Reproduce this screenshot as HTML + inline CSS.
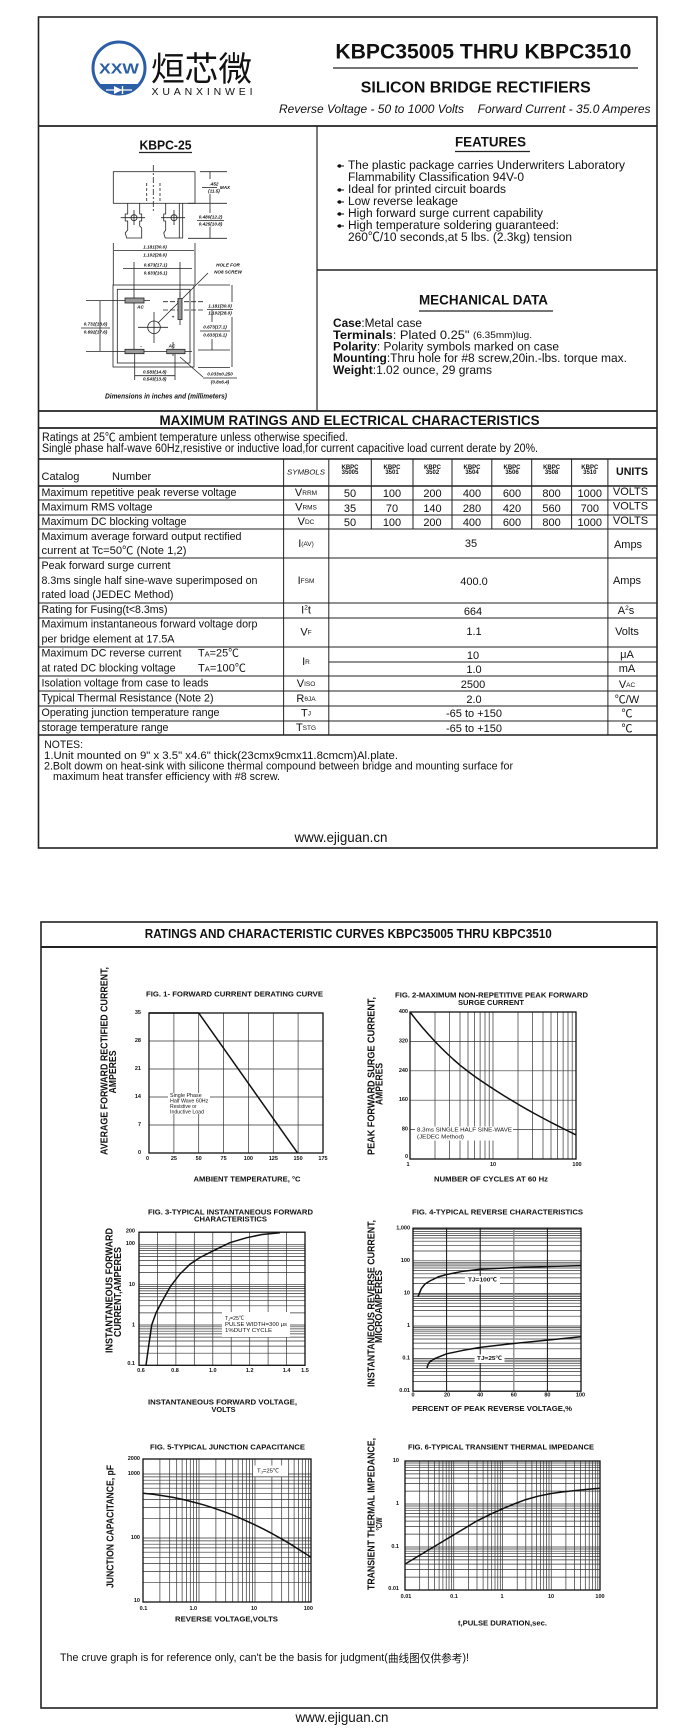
<!DOCTYPE html>
<html><head><meta charset="utf-8"><style>
html,body{margin:0;padding:0;background:#fff;}
svg{display:block;}
text{font-family:"Liberation Sans",Arial,"Noto Sans CJK SC",sans-serif;fill:#111;}
.b{font-weight:bold;}
.ln{stroke:#222;fill:none;}
.g{stroke:#333;stroke-width:0.7;fill:none;}
.bd{stroke:#111;stroke-width:1.3;fill:none;}
.cv{stroke:#111;stroke-width:1.5;fill:none;stroke-linejoin:round;}
.d{font-size:4.6px;font-weight:bold;font-style:italic;}
</style></head><body>
<svg width="694" height="1736" viewBox="0 0 694 1736" xmlns="http://www.w3.org/2000/svg">
<rect x="0" y="0" width="694" height="1736" fill="#fff"/>

<!-- ================= PAGE 1 ================= -->
<rect x="38.5" y="17" width="618.5" height="831" class="ln" stroke-width="1.6"/>
<line x1="38.5" y1="126" x2="657" y2="126" class="ln" stroke-width="1.8"/>
<line x1="317" y1="126" x2="317" y2="411" class="ln" stroke-width="1.2"/>
<line x1="317" y1="270" x2="657" y2="270" class="ln" stroke-width="1.6"/>

<!-- logo -->
<circle cx="119" cy="68" r="26" fill="#fff" stroke="#2b5ea7" stroke-width="3"/>
<path d="M98.5,84 A26,26 0 0 0 139.5,84 Z" fill="#2b5ea7"/>
<path d="M106,90 H132" stroke="#fff" stroke-width="1.2"/>
<path d="M114,86 L114,94 L122,90 Z" fill="#fff"/>
<path d="M122.5,86 V94" stroke="#fff" stroke-width="1.4"/>
<text x="119" y="69" text-anchor="middle" dominant-baseline="central" font-size="15" class="b" style="fill:#2b5ea7" textLength="40" lengthAdjust="spacingAndGlyphs">XXW</text>
<text x="151" y="81" font-size="34" style="font-family:'Liberation Sans','Noto Sans CJK SC',sans-serif;fill:#111" textLength="101" lengthAdjust="spacingAndGlyphs">烜芯微</text>
<text x="151.5" y="95" font-size="10.5" textLength="101" lengthAdjust="spacing">XUANXINWEI</text>

<!-- title -->
<text x="483.4" y="52" text-anchor="middle" dominant-baseline="central" font-size="21" class="b" textLength="296" lengthAdjust="spacingAndGlyphs">KBPC35005 THRU KBPC3510</text>
<line x1="333" y1="68" x2="638" y2="68" class="ln" stroke-width="1.2"/>
<text x="475.8" y="88" text-anchor="middle" dominant-baseline="central" font-size="16" class="b" textLength="230" lengthAdjust="spacingAndGlyphs">SILICON BRIDGE RECTIFIERS</text>
<text x="279" y="109" dominant-baseline="central" font-size="12" font-style="italic" textLength="185" lengthAdjust="spacingAndGlyphs">Reverse Voltage - 50 to 1000 Volts</text>
<text x="477.6" y="109" dominant-baseline="central" font-size="12" font-style="italic" textLength="173" lengthAdjust="spacingAndGlyphs">Forward Current - 35.0 Amperes</text>

<!-- package drawing -->
<text x="165.5" y="145" text-anchor="middle" dominant-baseline="central" font-size="13" class="b" textLength="52" lengthAdjust="spacingAndGlyphs">KBPC-25</text>
<line x1="139" y1="152.5" x2="192" y2="152.5" class="ln" stroke-width="1.2"/>
<g class="ln" stroke-width="0.8">
<rect x="113.3" y="171.7" width="81.7" height="31.6"/>
<line x1="153.3" y1="165" x2="153.3" y2="211" stroke-dasharray="6,2,2,2"/>
<line x1="146.7" y1="183" x2="146.7" y2="201" stroke-dasharray="3,2"/>
<line x1="160" y1="183" x2="160" y2="201" stroke-dasharray="3,2"/>
<path d="M127.7,203.3 V214 h-2.5 v7 h2.5 V230 l-2.5,3 l1.5,5 h15 V228 l-2,-2 V221 h2 v-7 h-2 V203.3"/>
<circle cx="134" cy="217.7" r="3"/>
<line x1="120.7" y1="217.7" x2="145" y2="217.7"/>
<line x1="134" y1="210" x2="134" y2="225"/>
<path d="M165.7,203.3 V214 h-2 v7 h2 V230 l-2,3 l1.5,5 h17.5 V203.3"/>
<line x1="179.3" y1="203.3" x2="179.3" y2="238"/>
<circle cx="174" cy="217.7" r="3"/>
<line x1="161" y1="217.7" x2="185" y2="217.7"/>
<line x1="174" y1="210" x2="174" y2="225"/>
<line x1="200" y1="171.7" x2="227" y2="171.7"/>
<line x1="188" y1="203.3" x2="227" y2="203.3"/>
<line x1="188" y1="238.3" x2="227" y2="238.3"/>
<line x1="210" y1="172" x2="210" y2="179"/><line x1="210" y1="194" x2="210" y2="203"/>
<line x1="210" y1="204" x2="210" y2="213"/><line x1="210" y1="227" x2="210" y2="238"/>
<line x1="202" y1="187.5" x2="217" y2="187.5"/>
<line x1="197" y1="220.5" x2="224" y2="220.5"/>
<line x1="113.3" y1="243" x2="113.3" y2="285"/>
<line x1="195" y1="243" x2="195" y2="285"/>
<line x1="114" y1="250.5" x2="194" y2="250.5"/>
<line x1="123" y1="268.5" x2="192" y2="268.5"/>
<line x1="134" y1="262" x2="134" y2="352"/>
<line x1="180" y1="262" x2="180" y2="298"/>
<line x1="208" y1="273" x2="158" y2="323"/>
<rect x="113" y="285" width="81" height="82"/>
<rect x="117.3" y="289.3" width="72.7" height="73.7"/>
<line x1="86" y1="300.5" x2="150" y2="300.5"/>
<line x1="163" y1="301.7" x2="205" y2="301.7" stroke-dasharray="5,2"/>
<line x1="163" y1="310" x2="205" y2="310" stroke-dasharray="5,2"/>
<line x1="180" y1="292" x2="180" y2="325" stroke-dasharray="5,2"/>
<circle cx="154" cy="327.3" r="6.3"/>
<line x1="138" y1="327.3" x2="168" y2="327.3"/>
<line x1="154" y1="312" x2="154" y2="343"/>
<line x1="86" y1="351.5" x2="192" y2="351.5"/>
<line x1="173" y1="342" x2="173" y2="356"/>
<line x1="100" y1="301" x2="100" y2="351"/>
<line x1="81" y1="328" x2="110" y2="328"/>
<line x1="198" y1="285" x2="230" y2="285"/>
<line x1="198" y1="367.5" x2="230" y2="367.5"/>
<line x1="232" y1="285" x2="232" y2="302"/><line x1="232" y1="317" x2="232" y2="367"/>
<line x1="207" y1="309.5" x2="233" y2="309.5"/>
<line x1="198" y1="350" x2="230" y2="350"/>
<line x1="212" y1="310" x2="212" y2="322"/><line x1="212" y1="339" x2="212" y2="350"/>
<line x1="200" y1="331" x2="230" y2="331"/>
<line x1="134.7" y1="353" x2="134.7" y2="380"/>
<line x1="175" y1="353" x2="175" y2="380"/>
<line x1="135" y1="375.7" x2="175" y2="375.7"/>
<line x1="203" y1="378" x2="237" y2="378"/>
<line x1="203" y1="377" x2="180" y2="357"/>
</g>
<rect x="125" y="298" width="19" height="5" fill="#999" stroke="#222" stroke-width="0.8"/>
<rect x="178" y="298.5" width="4" height="21" fill="#999" stroke="#222" stroke-width="0.8"/>
<rect x="125" y="349.3" width="19" height="4.4" fill="#999" stroke="#222" stroke-width="0.8"/>
<rect x="166.7" y="349.3" width="18.3" height="4.4" fill="#999" stroke="#222" stroke-width="0.8"/>
<g class="d" text-anchor="middle" dominant-baseline="central">
<text x="214" y="184">.452</text><text x="214" y="191">(11.5)</text>
<text x="225" y="187.5">MAX</text>
<text x="210.5" y="217">0.480(12.2)</text><text x="210.5" y="224">0.425(10.8)</text>
<text x="155" y="247">1.181(30.0)</text><text x="155" y="255">1.102(28.0)</text>
<text x="155.5" y="265">0.673(17.1)</text><text x="155.5" y="273">0.633(16.1)</text>
<text x="228" y="265">HOLE FOR</text><text x="228" y="272">NO8 SCREW</text>
<text x="140.5" y="307">AC</text><text x="173" y="317">+</text>
<text x="141" y="346">-</text><text x="172" y="346">AC</text>
<text x="95.5" y="324">0.732(18.6)</text><text x="95.5" y="332">0.692(17.6)</text>
<text x="220" y="306">1.181(30.0)</text><text x="220" y="313">1.102(28.0)</text>
<text x="215" y="327">0.673(17.1)</text><text x="215" y="335">0.633(16.1)</text>
<text x="154.7" y="372">0.583(14.8)</text><text x="154.7" y="379">0.543(13.8)</text>
<text x="220" y="374">0.033x0.250</text><text x="220" y="382">(0.8x6.4)</text>
</g>
<text x="166" y="397" text-anchor="middle" dominant-baseline="central" font-size="7" font-style="italic" class="b" textLength="122" lengthAdjust="spacingAndGlyphs">Dimensions in inches and (millimeters)</text>

<!-- features -->
<text x="490.5" y="142" text-anchor="middle" dominant-baseline="central" font-size="13.5" class="b" textLength="71" lengthAdjust="spacingAndGlyphs">FEATURES</text>
<line x1="455" y1="151.5" x2="530" y2="151.5" class="ln" stroke-width="1.2"/>
<g font-size="12.3" dominant-baseline="central">
<text x="348" y="165" textLength="277" lengthAdjust="spacingAndGlyphs">The plastic package carries Underwriters Laboratory</text>
<text x="348" y="177" textLength="176" lengthAdjust="spacingAndGlyphs">Flammability Classification 94V-0</text>
<text x="348" y="189" textLength="158" lengthAdjust="spacingAndGlyphs">Ideal for printed circuit boards</text>
<text x="348" y="201" textLength="110" lengthAdjust="spacingAndGlyphs">Low reverse leakage</text>
<text x="348" y="213" textLength="195" lengthAdjust="spacingAndGlyphs">High forward surge current capability</text>
<text x="348" y="225" textLength="211" lengthAdjust="spacingAndGlyphs">High temperature soldering guaranteed:</text>
<text x="348" y="237" textLength="224" lengthAdjust="spacingAndGlyphs">260℃/10 seconds,at 5 lbs. (2.3kg) tension</text>
</g>
<g stroke="#111" stroke-width="1">
<line x1="337" y1="166" x2="344" y2="166"/><line x1="337" y1="190" x2="344" y2="190"/>
<line x1="337" y1="202" x2="344" y2="202"/><line x1="337" y1="214" x2="344" y2="214"/>
<line x1="337" y1="226" x2="344" y2="226"/>
</g>
<g fill="#111">
<circle cx="339.5" cy="166" r="1.7"/><circle cx="339.5" cy="190" r="1.7"/><circle cx="339.5" cy="202" r="1.7"/><circle cx="339.5" cy="214" r="1.7"/><circle cx="339.5" cy="226" r="1.7"/>
</g>

<!-- mechanical -->
<text x="483.5" y="300" text-anchor="middle" dominant-baseline="central" font-size="13.5" class="b" textLength="129" lengthAdjust="spacingAndGlyphs">MECHANICAL DATA</text>
<line x1="419" y1="311" x2="553" y2="311" class="ln" stroke-width="1.2"/>
<g font-size="12.2" dominant-baseline="central">
<text x="333" y="323" textLength="89" lengthAdjust="spacingAndGlyphs"><tspan class="b">Case</tspan>:Metal case</text>
<text x="333" y="335" textLength="199" lengthAdjust="spacingAndGlyphs"><tspan class="b">Terminals</tspan>: Plated 0.25"   <tspan font-size="9.5">(6.35mm)lug.</tspan></text>
<text x="333" y="346.5" textLength="226" lengthAdjust="spacingAndGlyphs"><tspan class="b">Polarity</tspan>: Polarity symbols marked on case</text>
<text x="333" y="358" textLength="294" lengthAdjust="spacingAndGlyphs"><tspan class="b">Mounting</tspan>:Thru hole for #8 screw,20in.-lbs. torque max.</text>
<text x="333" y="370" textLength="159" lengthAdjust="spacingAndGlyphs"><tspan class="b">Weight</tspan>:1.02 ounce, 29 grams</text>
</g>

<!-- max ratings -->
<line x1="38.5" y1="411" x2="657" y2="411" class="ln" stroke-width="1.8"/>
<line x1="38.5" y1="428" x2="657" y2="428" class="ln" stroke-width="1.8"/>
<text x="349.5" y="420" text-anchor="middle" dominant-baseline="central" font-size="14" class="b" textLength="380" lengthAdjust="spacingAndGlyphs">MAXIMUM RATINGS AND ELECTRICAL CHARACTERISTICS</text>
<text x="42" y="438" dominant-baseline="central" font-size="11.5" textLength="306" lengthAdjust="spacingAndGlyphs">Ratings at 25℃ ambient temperature unless otherwise specified.</text>
<text x="42" y="449" dominant-baseline="central" font-size="11.5" textLength="496" lengthAdjust="spacingAndGlyphs">Single phase half-wave 60Hz,resistive or inductive load,for current capacitive load current derate by 20%.</text>

<!-- table lines -->
<g class="ln" stroke-width="1">
<line x1="38.5" y1="459" x2="657" y2="459" stroke-width="1.4"/>
<line x1="38.5" y1="486" x2="657" y2="486" stroke-width="1.4"/>
<line x1="38.5" y1="500" x2="657" y2="500"/>
<line x1="38.5" y1="515" x2="657" y2="515"/>
<line x1="38.5" y1="529" x2="657" y2="529"/>
<line x1="38.5" y1="558" x2="657" y2="558"/>
<line x1="38.5" y1="603" x2="657" y2="603"/>
<line x1="38.5" y1="618" x2="657" y2="618"/>
<line x1="38.5" y1="647" x2="657" y2="647"/>
<line x1="328.8" y1="662" x2="657" y2="662"/>
<line x1="38.5" y1="676" x2="657" y2="676"/>
<line x1="38.5" y1="691" x2="657" y2="691"/>
<line x1="38.5" y1="706" x2="657" y2="706"/>
<line x1="38.5" y1="721" x2="657" y2="721"/>
<line x1="38.5" y1="735" x2="657" y2="735" stroke-width="1.4"/>
<line x1="283.6" y1="459" x2="283.6" y2="735"/>
<line x1="328.8" y1="459" x2="328.8" y2="735"/>
<line x1="607.9" y1="459" x2="607.9" y2="735"/>
<line x1="371.3" y1="459" x2="371.3" y2="529"/>
<line x1="413" y1="459" x2="413" y2="529"/>
<line x1="452" y1="459" x2="452" y2="529"/>
<line x1="491.8" y1="459" x2="491.8" y2="529"/>
<line x1="531.7" y1="459" x2="531.7" y2="529"/>
<line x1="571.6" y1="459" x2="571.6" y2="529"/>
</g>

<!-- table header -->
<text x="41.5" y="477" dominant-baseline="central" font-size="11">Catalog</text>
<text x="112" y="477" dominant-baseline="central" font-size="11">Number</text>
<text x="306" y="472" text-anchor="middle" dominant-baseline="central" font-size="7.5" font-style="italic" textLength="38" lengthAdjust="spacingAndGlyphs">SYMBOLS</text>
<g font-size="6" class="b" text-anchor="middle" dominant-baseline="central">
<text x="350" y="468">KBPC</text><text x="350" y="473">35005</text>
<text x="392" y="468">KBPC</text><text x="392" y="473">3501</text>
<text x="432.5" y="468">KBPC</text><text x="432.5" y="473">3502</text>
<text x="472" y="468">KBPC</text><text x="472" y="473">3504</text>
<text x="512" y="468">KBPC</text><text x="512" y="473">3506</text>
<text x="551.6" y="468">KBPC</text><text x="551.6" y="473">3508</text>
<text x="589.8" y="468">KBPC</text><text x="589.8" y="473">3510</text>
</g>
<text x="632" y="472" text-anchor="middle" dominant-baseline="central" font-size="11" class="b" textLength="32" lengthAdjust="spacingAndGlyphs">UNITS</text>

<!-- table body labels -->
<g font-size="10.8" dominant-baseline="central">
<text x="41.5" y="493" textLength="195" lengthAdjust="spacingAndGlyphs">Maximum repetitive peak reverse voltage</text>
<text x="41.5" y="507.5" textLength="111" lengthAdjust="spacingAndGlyphs">Maximum RMS voltage</text>
<text x="41.5" y="522" textLength="145" lengthAdjust="spacingAndGlyphs">Maximum DC blocking voltage</text>
<text x="41.5" y="537" textLength="200" lengthAdjust="spacingAndGlyphs">Maximum average forward output rectified</text>
<text x="41.5" y="551" textLength="145" lengthAdjust="spacingAndGlyphs">current at  Tc=50℃  (Note 1,2)</text>
<text x="41.5" y="566" textLength="129" lengthAdjust="spacingAndGlyphs">Peak forward surge current</text>
<text x="41.5" y="581" textLength="216" lengthAdjust="spacingAndGlyphs">8.3ms single half sine-wave superimposed on</text>
<text x="41.5" y="595" textLength="132" lengthAdjust="spacingAndGlyphs">rated load (JEDEC Method)</text>
<text x="41.5" y="610" textLength="126" lengthAdjust="spacingAndGlyphs">Rating for Fusing(t&lt;8.3ms)</text>
<text x="41.5" y="624.5" textLength="216" lengthAdjust="spacingAndGlyphs">Maximum instantaneous forward voltage dorp</text>
<text x="41.5" y="639.5" textLength="133" lengthAdjust="spacingAndGlyphs">per bridge element at 17.5A</text>
<text x="41.5" y="653.5" textLength="140" lengthAdjust="spacingAndGlyphs">Maximum DC reverse current</text>
<text x="198" y="653.5" textLength="41" lengthAdjust="spacingAndGlyphs">T<tspan font-size="7.5">A</tspan>=25℃</text>
<text x="41.5" y="668.5" textLength="134" lengthAdjust="spacingAndGlyphs">at rated DC blocking voltage</text>
<text x="198" y="668.5" textLength="48" lengthAdjust="spacingAndGlyphs">T<tspan font-size="7.5">A</tspan>=100℃</text>
<text x="41.5" y="683.5" textLength="167" lengthAdjust="spacingAndGlyphs">Isolation voltage from case to leads</text>
<text x="41.5" y="698.5" textLength="172" lengthAdjust="spacingAndGlyphs">Typical Thermal Resistance (Note 2)</text>
<text x="41.5" y="713" textLength="178" lengthAdjust="spacingAndGlyphs">Operating junction temperature range</text>
<text x="41.5" y="728" textLength="127" lengthAdjust="spacingAndGlyphs">storage temperature range</text>
</g>
<!-- symbols -->
<g font-size="11" dominant-baseline="central" text-anchor="middle">
<text x="306" y="493">V<tspan font-size="6.5">RRM</tspan></text>
<text x="306" y="507.5">V<tspan font-size="6.5">RMS</tspan></text>
<text x="306" y="522">V<tspan font-size="6.5">DC</tspan></text>
<text x="306" y="544">I<tspan font-size="6.5">(AV)</tspan></text>
<text x="306" y="581">I<tspan font-size="6.5">FSM</tspan></text>
<text x="306" y="610.5">I<tspan font-size="6.5" dy="-3">2</tspan><tspan dy="3">t</tspan></text>
<text x="306" y="632.5">V<tspan font-size="6.5">F</tspan></text>
<text x="306" y="662">I<tspan font-size="6.5">R</tspan></text>
<text x="306" y="684">V<tspan font-size="6.5">ISO</tspan></text>
<text x="306" y="699">R<tspan font-size="6.5">θJA</tspan></text>
<text x="306" y="713.5">T<tspan font-size="6.5">J</tspan></text>
<text x="306" y="728">T<tspan font-size="6.5">STG</tspan></text>
</g>
<!-- values -->
<g font-size="11" dominant-baseline="central" text-anchor="middle">
<text x="350" y="494">50</text><text x="392" y="494">100</text><text x="432.5" y="494">200</text><text x="472" y="494">400</text><text x="512" y="494">600</text><text x="551.6" y="494">800</text><text x="589.8" y="494">1000</text>
<text x="350" y="509">35</text><text x="392" y="509">70</text><text x="432.5" y="509">140</text><text x="472" y="509">280</text><text x="512" y="509">420</text><text x="551.6" y="509">560</text><text x="589.8" y="509">700</text>
<text x="350" y="523">50</text><text x="392" y="523">100</text><text x="432.5" y="523">200</text><text x="472" y="523">400</text><text x="512" y="523">600</text><text x="551.6" y="523">800</text><text x="589.8" y="523">1000</text>
<text x="471" y="544">35</text>
<text x="474" y="582">400.0</text>
<text x="473" y="612">664</text>
<text x="474" y="632">1.1</text>
<text x="473" y="656">10</text>
<text x="474" y="670">1.0</text>
<text x="473" y="685">2500</text>
<text x="474" y="700">2.0</text>
<text x="474" y="714">-65 to +150</text>
<text x="474" y="729">-65 to +150</text>
<text x="630.5" y="492">VOLTS</text>
<text x="630.5" y="506.5">VOLTS</text>
<text x="630.5" y="521">VOLTS</text>
<text x="628" y="545">Amps</text>
<text x="627" y="581">Amps</text>
<text x="626" y="611">A<tspan font-size="6.5" dy="-3">2</tspan><tspan dy="3">s</tspan></text>
<text x="627" y="632">Volts</text>
<text x="627" y="655">μA</text>
<text x="627" y="669">mA</text>
<text x="627" y="685">V<tspan font-size="6.5">AC</tspan></text>
<text x="627" y="700">℃/W</text>
<text x="627" y="714">℃</text>
<text x="627" y="729">℃</text>
</g>

<!-- notes -->
<g font-size="11" dominant-baseline="central">
<text x="44.3" y="745" textLength="38.7" lengthAdjust="spacingAndGlyphs">NOTES:</text>
<text x="44" y="756" textLength="354" lengthAdjust="spacingAndGlyphs">1.Unit mounted on 9"   x 3.5"   x4.6"   thick(23cmx9cmx11.8cmcm)Al.plate.</text>
<text x="44" y="766.5" textLength="469" lengthAdjust="spacingAndGlyphs">2.Bolt dowm on heat-sink with silicone thermal compound between bridge and mounting surface for</text>
<text x="53" y="777" textLength="227" lengthAdjust="spacingAndGlyphs">maximum heat transfer efficiency with #8 screw.</text>
</g>
<text x="341" y="837" text-anchor="middle" dominant-baseline="central" font-size="14" textLength="93" lengthAdjust="spacingAndGlyphs">www.ejiguan.cn</text>

<!-- ================= PAGE 2 ================= -->
<rect x="41" y="922" width="616" height="786" class="ln" stroke-width="1.6"/>
<line x1="41" y1="947" x2="657" y2="947" class="ln" stroke-width="2"/>
<text x="348.3" y="934" text-anchor="middle" dominant-baseline="central" font-size="12.5" class="b" textLength="407" lengthAdjust="spacingAndGlyphs">RATINGS AND CHARACTERISTIC CURVES KBPC35005 THRU KBPC3510</text>

<!-- FIG 1 -->
<text x="234.5" y="995" text-anchor="middle" dominant-baseline="central" font-size="7" class="b" textLength="177" lengthAdjust="spacingAndGlyphs">FIG. 1- FORWARD CURRENT DERATING CURVE</text>
<path class="g" stroke-width="1" d="M173.9,1013V1153M198.7,1013V1153M223.6,1013V1153M248.4,1013V1153M273.3,1013V1153M298.1,1013V1153M149,1041H323M149,1069H323M149,1097H323M149,1125H323"/>
<rect x="149" y="1013" width="174" height="140" class="bd"/>
<rect x="168" y="1093" width="42" height="21" fill="#fff"/>
<polyline class="cv" points="149,1013 198.7,1013 297.6,1153"/>
<g font-size="5" dominant-baseline="central">
<text x="170" y="1096" textLength="31.7" lengthAdjust="spacingAndGlyphs">Single Phase</text>
<text x="170" y="1101.5" textLength="38.3" lengthAdjust="spacingAndGlyphs">Half Wave 60Hz</text>
<text x="170" y="1107" textLength="26.7" lengthAdjust="spacingAndGlyphs">Resistive or</text>
<text x="170" y="1112.5" textLength="34" lengthAdjust="spacingAndGlyphs">Inductive Load</text>
</g>
<g font-size="5.5" class="b" text-anchor="end" dominant-baseline="central">
<text x="141" y="1013">35</text><text x="141" y="1041">28</text><text x="141" y="1069">21</text><text x="141" y="1097">14</text><text x="141" y="1125">7</text><text x="141" y="1153">0</text>
</g>
<g font-size="5.5" class="b" text-anchor="middle" dominant-baseline="central">
<text x="147.5" y="1159">0</text><text x="173.9" y="1159">25</text><text x="198.7" y="1159">50</text><text x="223.6" y="1159">75</text><text x="248.4" y="1159">100</text><text x="273.3" y="1159">125</text><text x="298.1" y="1159">150</text><text x="323" y="1159">175</text>
</g>
<text x="247" y="1179" text-anchor="middle" dominant-baseline="central" font-size="7.5" class="b" textLength="107" lengthAdjust="spacingAndGlyphs">AMBIENT TEMPERATURE, °C</text>
<text transform="translate(105,1061) rotate(-90)" text-anchor="middle" dominant-baseline="central" font-size="10" class="b" textLength="188" lengthAdjust="spacingAndGlyphs">AVERAGE FORWARD RECTIFIED CURRENT,</text>
<text transform="translate(113.3,1072) rotate(-90)" text-anchor="middle" dominant-baseline="central" font-size="10" class="b" textLength="43" lengthAdjust="spacingAndGlyphs">AMPERES</text>

<!-- FIG 2 -->
<text x="491.5" y="996" text-anchor="middle" dominant-baseline="central" font-size="7" class="b" textLength="193" lengthAdjust="spacingAndGlyphs">FIG. 2-MAXIMUM NON-REPETITIVE PEAK FORWARD</text>
<text x="491" y="1003.5" text-anchor="middle" dominant-baseline="central" font-size="7" class="b" textLength="66" lengthAdjust="spacingAndGlyphs">SURGE CURRENT</text>
<path class="g" stroke-width="1" d="M435,1012V1159M449.6,1012V1159M460,1012V1159M468,1012V1159M474.6,1012V1159M480.1,1012V1159M485,1012V1159M489.2,1012V1159M493,1012V1159M518,1012V1159M532.6,1012V1159M543,1012V1159M551,1012V1159M557.6,1012V1159M563.1,1012V1159M568,1012V1159M572.2,1012V1159M410,1041.4H576M410,1070.8H576M410,1100.2H576M410,1129.6H576"/>
<rect x="410" y="1012" width="166" height="147" class="bd"/>
<rect x="415" y="1126.5" width="98" height="14" fill="#fff"/>
<polyline class="cv" points="410,1012 416,1019.7 422,1027 428.5,1034.4 435,1041.5 441,1047.6 447,1053.5 453.5,1059.5 460,1065.2 467.5,1071 475,1076.6 482.5,1081.8 490,1086.8 497.5,1091.6 505,1096.4 512.5,1100.9 520,1105.4 527.5,1109.7 535,1113.9 542.5,1117.9 550,1121.9 556.5,1125.2 563,1128.5 569.5,1131.7 576,1134.9"/>
<text x="417" y="1130.5" dominant-baseline="central" font-size="5.5" textLength="95" lengthAdjust="spacingAndGlyphs">8.3ms SINGLE HALF SINE-WAVE</text>
<text x="417" y="1137.5" dominant-baseline="central" font-size="5.5" textLength="47" lengthAdjust="spacingAndGlyphs">(JEDEC Method)</text>
<g font-size="5.5" class="b" text-anchor="end" dominant-baseline="central">
<text x="408" y="1012">400</text><text x="408" y="1041.4">320</text><text x="408" y="1070.8">240</text><text x="408" y="1100.2">160</text><text x="408" y="1129.6">80</text><text x="408" y="1157">0</text>
</g>
<g font-size="5.5" class="b" text-anchor="middle" dominant-baseline="central">
<text x="408" y="1165">1</text><text x="493" y="1165">10</text><text x="577" y="1165">100</text>
</g>
<text x="491" y="1179" text-anchor="middle" dominant-baseline="central" font-size="7.5" class="b" textLength="114" lengthAdjust="spacingAndGlyphs">NUMBER OF CYCLES AT 60 Hz</text>
<text transform="translate(372,1076) rotate(-90)" text-anchor="middle" dominant-baseline="central" font-size="10" class="b" textLength="158" lengthAdjust="spacingAndGlyphs">PEAK   FORWARD SURGE CURRENT,</text>
<text transform="translate(380,1084) rotate(-90)" text-anchor="middle" dominant-baseline="central" font-size="10" class="b" textLength="42" lengthAdjust="spacingAndGlyphs">AMPERES</text>

<!-- FIG 3 -->
<text x="230.5" y="1213" text-anchor="middle" dominant-baseline="central" font-size="7" class="b" textLength="165" lengthAdjust="spacingAndGlyphs">FIG. 3-TYPICAL INSTANTANEOUS FORWARD</text>
<text x="230.5" y="1220" text-anchor="middle" dominant-baseline="central" font-size="7" class="b" textLength="73" lengthAdjust="spacingAndGlyphs">CHARACTERISTICS</text>
<path class="g" d="M157.4,1232.2V1365.3M175.9,1232.2V1365.3M194.3,1232.2V1365.3M212.8,1232.2V1365.3M231.2,1232.2V1365.3M249.7,1232.2V1365.3M268.1,1232.2V1365.3M286.6,1232.2V1365.3
M139,1353.2H305M139,1346.1H305M139,1341H305M139,1337.1H305M139,1333.9H305M139,1331.2H305M139,1328.9H305M139,1326.8H305M139,1325H305
M139,1312.9H305M139,1305.8H305M139,1300.7H305M139,1296.8H305M139,1293.6H305M139,1290.9H305M139,1288.6H305M139,1286.5H305M139,1284.7H305
M139,1272.5H305M139,1265.4H305M139,1260.4H305M139,1256.5H305M139,1253.3H305M139,1250.6H305M139,1248.3H305M139,1246.2H305M139,1244.3H305"/>
<rect x="139" y="1232.2" width="166" height="133.1" class="bd"/>
<rect x="222" y="1312" width="68" height="25" fill="#fff"/>
<polyline class="cv" points="146,1365.3 148.4,1347.9 151.7,1325 156,1313 161.1,1303.1 170,1287.1 179.6,1274.4 189.9,1264.3 200,1257.5 211.7,1251.6 229.9,1242.7 246.7,1237.7 262,1234.5 279.9,1232.7"/>
<g font-size="5.5" dominant-baseline="central">
<text x="225" y="1319" textLength="19" lengthAdjust="spacingAndGlyphs">T<tspan font-size="4">J</tspan>=25℃</text>
<text x="225" y="1325" textLength="62" lengthAdjust="spacingAndGlyphs">PULSE WIDTH=300 μs</text>
<text x="225" y="1331" textLength="47" lengthAdjust="spacingAndGlyphs">1%DUTY CYCLE</text>
</g>
<g font-size="5.5" class="b" text-anchor="end" dominant-baseline="central">
<text x="135" y="1231.5">200</text><text x="135" y="1244">100</text><text x="135" y="1285">10</text><text x="135" y="1325.5">1</text><text x="135" y="1364">0.1</text>
</g>
<g font-size="5.5" class="b" text-anchor="middle" dominant-baseline="central">
<text x="141" y="1371">0.6</text><text x="175" y="1371">0.8</text><text x="212.8" y="1371">1.0</text><text x="249.7" y="1371">1.2</text><text x="286.6" y="1371">1.4</text><text x="305" y="1371">1.5</text>
</g>
<text x="222.5" y="1402" text-anchor="middle" dominant-baseline="central" font-size="7.5" class="b" textLength="149" lengthAdjust="spacingAndGlyphs">INSTANTANEOUS FORWARD VOLTAGE,</text>
<text x="223.5" y="1409.5" text-anchor="middle" dominant-baseline="central" font-size="7.5" class="b" textLength="24" lengthAdjust="spacingAndGlyphs">VOLTS</text>
<text transform="translate(110,1290.5) rotate(-90)" text-anchor="middle" dominant-baseline="central" font-size="10" class="b" textLength="125" lengthAdjust="spacingAndGlyphs">INSTANTANEOUS FORWARD</text>
<text transform="translate(118.3,1292) rotate(-90)" text-anchor="middle" dominant-baseline="central" font-size="10" class="b" textLength="90" lengthAdjust="spacingAndGlyphs">CURRENT,AMPERES</text>

<!-- FIG 4 -->
<text x="497.5" y="1213" text-anchor="middle" dominant-baseline="central" font-size="7" class="b" textLength="171" lengthAdjust="spacingAndGlyphs">FIG. 4-TYPICAL REVERSE CHARACTERISTICS</text>
<path class="g" d="M413,1381.4H581M413,1375.7H581M413,1371.6H581M413,1368.4H581M413,1365.8H581M413,1363.7H581M413,1361.8H581M413,1360.1H581M413,1358.6H581
M413,1348.8H581M413,1343.1H581M413,1339H581M413,1335.8H581M413,1333.2H581M413,1331.1H581M413,1329.2H581M413,1327.5H581M413,1326H581
M413,1316.2H581M413,1310.5H581M413,1306.4H581M413,1303.2H581M413,1300.6H581M413,1298.5H581M413,1296.6H581M413,1294.9H581M413,1293.4H581
M413,1283.6H581M413,1277.9H581M413,1273.8H581M413,1270.6H581M413,1268H581M413,1265.9H581M413,1264H581M413,1262.3H581M413,1260.8H581
M413,1251H581M413,1245.3H581M413,1241.2H581M413,1238H581M413,1235.4H581M413,1233.3H581M413,1231.4H581M413,1229.7H581"/>
<path stroke="#111" stroke-width="1" fill="none" d="M446.6,1228.2V1391.2M480.2,1228.2V1391.2M547.4,1228.2V1391.2"/>
<path stroke="#888" stroke-width="1.3" fill="none" d="M513.8,1228.2V1391.2"/>
<rect x="413" y="1228.2" width="168" height="163" class="bd"/>
<polyline class="cv" points="418,1296.6 421.4,1288.6 425,1284 429.8,1281 438.2,1276.9 446.6,1274.5 463.4,1271.2 480.2,1269.3 513.8,1267.6 547.4,1266.5 581,1265.6"/>
<polyline class="cv" points="427,1368 428,1364.5 429.8,1361.8 434.8,1358.6 446.6,1353.8 463.4,1350.3 480.2,1347.4 513.8,1343.5 547.4,1340.1 581,1336.7"/>
<rect x="465" y="1276" width="35" height="8.5" fill="#fff"/>
<rect x="474.5" y="1354.5" width="30" height="8.5" fill="#fff"/>
<text x="468" y="1280.3" dominant-baseline="central" font-size="5.5" class="b" textLength="29" lengthAdjust="spacingAndGlyphs">TJ=100℃</text>
<text x="477" y="1358.8" dominant-baseline="central" font-size="5.5" class="b" textLength="25" lengthAdjust="spacingAndGlyphs">TJ=25℃</text>
<g font-size="5.5" class="b" text-anchor="end" dominant-baseline="central">
<text x="410" y="1228.5">1,000</text><text x="410" y="1261">100</text><text x="410" y="1293.5">10</text><text x="410" y="1326">1</text><text x="410" y="1358.6">0.1</text><text x="410" y="1391">0.01</text>
</g>
<g font-size="5.5" class="b" text-anchor="middle" dominant-baseline="central">
<text x="413" y="1395.5">0</text><text x="447" y="1395.5">20</text><text x="480.2" y="1395.5">40</text><text x="513.8" y="1395.5">60</text><text x="547.4" y="1395.5">80</text><text x="580.5" y="1395.5">100</text>
</g>
<text x="492" y="1408.5" text-anchor="middle" dominant-baseline="central" font-size="7.5" class="b" textLength="160" lengthAdjust="spacingAndGlyphs">PERCENT OF PEAK REVERSE VOLTAGE,%</text>
<text transform="translate(372,1303.5) rotate(-90)" text-anchor="middle" dominant-baseline="central" font-size="10" class="b" textLength="167" lengthAdjust="spacingAndGlyphs">INSTANTANEOUS REVERSE CURRENT,</text>
<text transform="translate(379.5,1306.5) rotate(-90)" text-anchor="middle" dominant-baseline="central" font-size="10" class="b" textLength="73" lengthAdjust="spacingAndGlyphs">MICROAMPERES</text>

<!-- FIG 5 -->
<text x="227.5" y="1448" text-anchor="middle" dominant-baseline="central" font-size="7" class="b" textLength="155" lengthAdjust="spacingAndGlyphs">FIG. 5-TYPICAL JUNCTION CAPACITANCE</text>
<path class="g" d="M159.9,1459V1602M169.7,1459V1602M176.7,1459V1602M182.1,1459V1602M186.6,1459V1602M190.3,1459V1602M193.6,1459V1602M196.4,1459V1602M199,1459V1602
M215.9,1459V1602M225.7,1459V1602M232.7,1459V1602M238.1,1459V1602M242.6,1459V1602M246.3,1459V1602M249.6,1459V1602M252.4,1459V1602M255,1459V1602
M271.9,1459V1602M281.7,1459V1602M288.7,1459V1602M294.1,1459V1602M298.6,1459V1602M302.3,1459V1602M305.6,1459V1602M308.4,1459V1602
M143,1582.7H311M143,1571.5H311M143,1563.5H311M143,1557.3H311M143,1552.2H311M143,1547.9H311M143,1544.2H311M143,1540.9H311M143,1538H311
M143,1518.7H311M143,1507.5H311M143,1499.5H311M143,1493.3H311M143,1488.2H311M143,1483.9H311M143,1480.2H311M143,1476.9H311M143,1474H311"/>
<rect x="143" y="1459" width="168" height="143" class="bd"/>
<polyline class="cv" points="143,1493.3 153,1494.3 163,1495.7 173,1497.4 183,1499.5 193,1502 203,1504.7 213,1507.8 223,1511.3 233,1515.1 243,1519.4 253,1523.9 263,1528.8 273,1534.1 283,1539.7 293,1545.7 303,1552.1 311,1557.3"/>
<rect x="253" y="1465.5" width="35" height="11" fill="#fff"/>
<text x="257" y="1471.5" dominant-baseline="central" font-size="5.5" textLength="22" lengthAdjust="spacingAndGlyphs">T<tspan font-size="4">J</tspan>=25℃</text>
<g font-size="5.5" class="b" text-anchor="end" dominant-baseline="central">
<text x="140" y="1459">2000</text><text x="140" y="1474">1000</text><text x="140" y="1538">100</text><text x="140" y="1601">10</text>
</g>
<g font-size="5.5" class="b" text-anchor="middle" dominant-baseline="central">
<text x="143.5" y="1609">0.1</text><text x="193.3" y="1609">1.0</text><text x="254" y="1609">10</text><text x="308.3" y="1609">100</text>
</g>
<text x="226.5" y="1619" text-anchor="middle" dominant-baseline="central" font-size="7.5" class="b" textLength="103" lengthAdjust="spacingAndGlyphs">REVERSE VOLTAGE,VOLTS</text>
<text transform="translate(111,1526.5) rotate(-90)" text-anchor="middle" dominant-baseline="central" font-size="10" class="b" textLength="123" lengthAdjust="spacingAndGlyphs">JUNCTION CAPACITANCE, pF</text>

<!-- FIG 6 -->
<text x="501" y="1448" text-anchor="middle" dominant-baseline="central" font-size="7" class="b" textLength="186" lengthAdjust="spacingAndGlyphs">FIG. 6-TYPICAL TRANSIENT THERMAL IMPEDANCE</text>
<path class="g" d="M419.7,1461V1590M428.3,1461V1590M434.4,1461V1590M439.1,1461V1590M442.9,1461V1590M446.2,1461V1590M449,1461V1590M451.5,1461V1590M453.75,1461V1590
M468.4,1461V1590M477,1461V1590M483.1,1461V1590M487.8,1461V1590M491.7,1461V1590M495,1461V1590M497.8,1461V1590M500.3,1461V1590M502.5,1461V1590
M517.2,1461V1590M525.8,1461V1590M531.9,1461V1590M536.6,1461V1590M540.4,1461V1590M543.7,1461V1590M546.5,1461V1590M549,1461V1590M551.25,1461V1590
M565.9,1461V1590M574.5,1461V1590M580.6,1461V1590M585.3,1461V1590M589.2,1461V1590M592.5,1461V1590M595.3,1461V1590M597.8,1461V1590
M405,1577.1H600M405,1569.5H600M405,1564.1H600M405,1559.9H600M405,1556.5H600M405,1553.7H600M405,1551.2H600M405,1549H600M405,1547H600
M405,1534.1H600M405,1526.5H600M405,1521.1H600M405,1516.9H600M405,1513.5H600M405,1510.7H600M405,1508.2H600M405,1506H600M405,1504H600
M405,1491.1H600M405,1483.5H600M405,1478.1H600M405,1473.9H600M405,1470.5H600M405,1467.7H600M405,1465.2H600M405,1463H600"/>
<rect x="405" y="1461" width="195" height="129" class="bd"/>
<polyline class="cv" points="405,1564.1 417,1556.9 428.3,1550.1 440,1543.1 453.75,1534.9 465,1528.1 477,1520.9 490,1514.4 502.5,1508.8 514,1504 525.8,1499.6 538,1496.2 551.25,1493.5 563,1491.9 574.5,1490.6 587,1489.4 600,1488.2"/>
<g font-size="5.5" class="b" text-anchor="end" dominant-baseline="central">
<text x="399" y="1461">10</text><text x="399" y="1504">1</text><text x="399" y="1547">0.1</text><text x="399" y="1589">0.01</text>
</g>
<g font-size="5.5" class="b" text-anchor="middle" dominant-baseline="central">
<text x="406" y="1597">0.01</text><text x="454" y="1597">0.1</text><text x="502" y="1597">1</text><text x="551" y="1597">10</text><text x="600" y="1597">100</text>
</g>
<text x="502.5" y="1623" text-anchor="middle" dominant-baseline="central" font-size="7.5" class="b" textLength="89" lengthAdjust="spacingAndGlyphs">t,PULSE DURATION,sec.</text>
<text transform="translate(372,1514) rotate(-90)" text-anchor="middle" dominant-baseline="central" font-size="10" class="b" textLength="152" lengthAdjust="spacingAndGlyphs">TRANSIENT THERMAL IMPEDANCE,</text>
<text transform="translate(379.5,1524) rotate(-90)" text-anchor="middle" dominant-baseline="central" font-size="8" class="b" textLength="13" lengthAdjust="spacingAndGlyphs">°C/W</text>

<!-- footer -->
<text x="60" y="1658" dominant-baseline="central" font-size="11" textLength="409" lengthAdjust="spacingAndGlyphs">The cruve graph is for reference only, can't be the basis for judgment(<tspan style="font-family:'Noto Sans CJK SC',sans-serif">曲线图仅供参考</tspan>)!</text>
<text x="342" y="1717" text-anchor="middle" dominant-baseline="central" font-size="14" textLength="93" lengthAdjust="spacingAndGlyphs">www.ejiguan.cn</text>
</svg>
</body></html>
